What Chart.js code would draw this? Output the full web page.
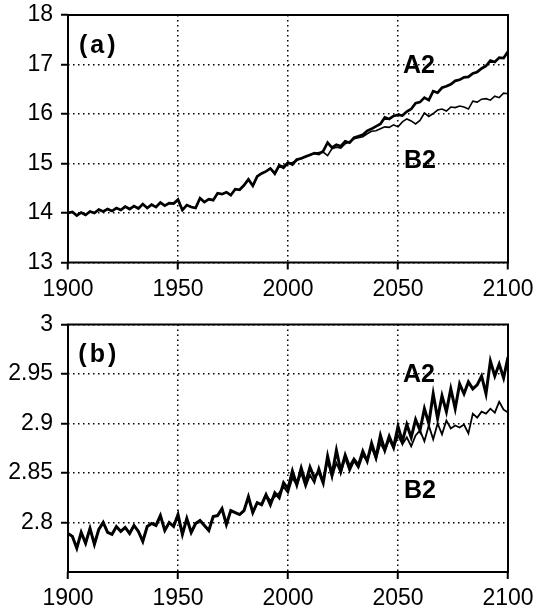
<!DOCTYPE html>
<html>
<head>
<meta charset="utf-8">
<script src="https://cdn.jsdelivr.net/npm/chart.js@4.4.0/dist/chart.umd.min.js"></script>
<style>
  body { margin: 0; background: #fff; }
  #wrap { position: relative; width: 536px; height: 609px; }
  canvas { position: absolute; left: 0; }
  #chartA { top: 0; }
  #chartB { top: 300px; }
</style>
</head>
<body>
<div id="wrap">
  <canvas id="chartA" width="536" height="300"></canvas>
  <canvas id="chartB" width="536" height="309"></canvas>
</div>
<script>
// ===== Years (2-year steps): shared historical run, then scenarios =====
const histYears = [
    1900, 1902, 1904, 1906, 1908, 1910, 1912, 1914, 1916, 1918,
    1920, 1922, 1924, 1926, 1928, 1930, 1932, 1934, 1936, 1938,
    1940, 1942, 1944, 1946, 1948, 1950, 1952, 1954, 1956, 1958,
    1960, 1962, 1964, 1966, 1968, 1970, 1972, 1974, 1976, 1978,
    1980, 1982, 1984, 1986, 1988, 1990
];
const futYears = [
    1992, 1994, 1996, 1998, 2000, 2002, 2004, 2006, 2008, 2010,
    2012, 2014, 2016, 2018, 2020, 2022, 2024, 2026, 2028, 2030,
    2032, 2034, 2036, 2038, 2040, 2042, 2044, 2046, 2048, 2050,
    2052, 2054, 2056, 2058, 2060, 2062, 2064, 2066, 2068, 2070,
    2072, 2074, 2076, 2078, 2080, 2082, 2084, 2086, 2088, 2090,
    2092, 2094, 2096, 2098, 2100
];

// ===== Panel (a) =====
const histA = [
    14.00, 14.02, 13.95, 14.01, 13.96, 14.03, 14.00, 14.07, 14.03, 14.08,
    14.04, 14.10, 14.06, 14.13, 14.08, 14.14, 14.09, 14.18, 14.10, 14.17,
    14.12, 14.21, 14.15, 14.20, 14.19, 14.27, 14.06, 14.16, 14.12, 14.10,
    14.30, 14.22, 14.28, 14.26, 14.40, 14.38, 14.42, 14.36, 14.48, 14.47,
    14.56, 14.68, 14.55, 14.74, 14.80, 14.84
];
const a2A = [
    14.90, 14.80, 14.96, 14.93, 15.02, 14.98, 15.08, 15.10, 15.14, 15.17,
    15.21, 15.19, 15.25, 15.42, 15.32, 15.38, 15.35, 15.45, 15.42, 15.52,
    15.55, 15.58, 15.66, 15.70, 15.75, 15.80, 15.93, 15.90, 15.96, 15.98,
    15.97, 16.05, 16.10, 16.22, 16.24, 16.33, 16.28, 16.46, 16.43, 16.53,
    16.56, 16.60, 16.67, 16.69, 16.74, 16.75, 16.82, 16.85, 16.92, 16.97,
    17.08, 17.05, 17.14, 17.13, 17.26
];
const b2A = [
    14.90, 14.78, 14.95, 14.90, 15.00, 15.02, 15.06, 15.11, 15.13, 15.18,
    15.20, 15.22, 15.23, 15.16, 15.30, 15.33, 15.31, 15.40, 15.44, 15.50,
    15.52, 15.54, 15.60, 15.65, 15.66, 15.70, 15.74, 15.73, 15.78, 15.74,
    15.84, 15.90, 15.86, 15.80, 15.87, 16.02, 15.95, 16.01, 16.08, 16.10,
    16.06, 16.14, 16.13, 16.16, 16.14, 16.10, 16.26, 16.24, 16.30, 16.31,
    16.28, 16.36, 16.33, 16.42, 16.41
];

// ===== Panel (b) =====
const histB = [
    2.789, 2.786, 2.774, 2.790, 2.779, 2.794, 2.778, 2.793, 2.800, 2.790,
    2.788, 2.796, 2.791, 2.795, 2.789, 2.797, 2.791, 2.781, 2.796, 2.799,
    2.797, 2.807, 2.792, 2.800, 2.796, 2.808, 2.788, 2.804, 2.790, 2.799,
    2.802, 2.797, 2.792, 2.806, 2.807, 2.814, 2.798, 2.812, 2.810, 2.808,
    2.812, 2.826, 2.810, 2.820, 2.818, 2.828
];
const a2B = [
    2.818, 2.830, 2.825, 2.840, 2.834, 2.852, 2.838, 2.855, 2.840, 2.856,
    2.845, 2.852, 2.840, 2.867, 2.848, 2.873, 2.852, 2.868, 2.856, 2.864,
    2.858, 2.872, 2.862, 2.880, 2.866, 2.888, 2.873, 2.887, 2.876, 2.897,
    2.882, 2.899, 2.886, 2.904, 2.893, 2.915, 2.900, 2.930, 2.905, 2.928,
    2.912, 2.935, 2.915, 2.940, 2.930, 2.942, 2.935, 2.939, 2.948, 2.930,
    2.963, 2.948, 2.960, 2.946, 2.967
];
const b2B = [
    2.822, 2.826, 2.830, 2.836, 2.830, 2.845, 2.838, 2.850, 2.836, 2.848,
    2.840, 2.856, 2.842, 2.862, 2.846, 2.860, 2.850, 2.865, 2.852, 2.862,
    2.855, 2.868, 2.862, 2.876, 2.864, 2.880, 2.872, 2.884, 2.875, 2.888,
    2.879, 2.886, 2.877, 2.888, 2.893, 2.882, 2.898, 2.884, 2.900, 2.889,
    2.903, 2.895, 2.898, 2.896, 2.899, 2.890, 2.910, 2.906, 2.912, 2.910,
    2.915, 2.911, 2.922, 2.914, 2.911
];

// ===== Tick labels =====
const xTicks = [1900, 1950, 2000, 2050, 2100];
const yTicksA = [13, 14, 15, 16, 17, 18];
const yTicksB = [2.8, 2.85, 2.9, 2.95, 3];

const allYears = histYears.concat(futYears);
function toPoints(hist, fut) {
    const ys = hist.concat(fut);
    return allYears.map((yr, i) => ({ x: yr, y: ys[i] }));
}

// frame box + panel labels
const panelDecor = {
    id: "panelDecor",
    afterDraw(chart) {
        const { ctx, chartArea: a, scales } = chart;
        const notes = chart.options.plugins.panelDecor.notes || [];
        ctx.save();
        ctx.strokeStyle = "#000";
        ctx.lineWidth = 2;
        ctx.strokeRect(a.left, a.top, a.right - a.left, a.bottom - a.top);
        ctx.fillStyle = "#000";
        ctx.textAlign = "center";
        ctx.textBaseline = "alphabetic";
        notes.forEach(n => {
            ctx.font = "bold 25px 'Liberation Sans'";
            ctx.letterSpacing = n.spacing || "0px";
            ctx.fillText(n.text, scales.x.getPixelForValue(n.x), scales.y.getPixelForValue(n.y));
        });
        ctx.restore();
    }
};

const tickFont = { family: "'Liberation Sans', Arial, sans-serif", size: 23 };

function makePanel(id, opt) {
    return new Chart(document.getElementById(id), {
        type: "line",
        data: {
            datasets: [
                { label: "A2", data: toPoints(opt.hist, opt.a2), borderColor: "#000", borderWidth: opt.wA2, pointRadius: 0, tension: 0, fill: false },
                { label: "B2", data: toPoints(opt.hist, opt.b2), borderColor: "#000", borderWidth: opt.wB2, pointRadius: 0, tension: 0, fill: false }
            ]
        },
        options: {
            responsive: false,
            animation: false,
            layout: { padding: { top: opt.top, right: 28, left: 0, bottom: 0 } },
            plugins: {
                legend: { display: false },
                tooltip: { enabled: false },
                panelDecor: { notes: opt.notes }
            },
            scales: {
                x: {
                    type: "linear",
                    min: 1900,
                    max: 2100,
                    afterBuildTicks: s => { s.ticks = xTicks.map(v => ({ value: v })); },
                    afterFit: s => { s.height = opt.xAxisH; s.paddingLeft = 0; s.paddingRight = 0; },
                    ticks: { color: "#000", font: tickFont, padding: 6, maxRotation: 0, autoSkip: false, callback: v => String(v) },
                    grid: { color: "#000", lineWidth: 1.5, tickLength: 7, tickWidth: 2 },
                    border: { display: false, dash: [1.5, 3.5] }
                },
                y: {
                    min: opt.yMin,
                    max: opt.yMax,
                    afterBuildTicks: s => { s.ticks = opt.yTicks.map(v => ({ value: v })); },
                    afterFit: s => { s.width = 68; s.paddingTop = 0; s.paddingBottom = 0; },
                    ticks: { color: "#000", font: tickFont, padding: 8, autoSkip: false, callback: v => String(v) },
                    grid: { color: "#000", lineWidth: 1.5, tickLength: 7, tickWidth: 2 },
                    border: { display: false, dash: [1.5, 3.5] }
                }
            }
        },
        plugins: [panelDecor]
    });
}

makePanel("chartA", {
    hist: histA, a2: a2A, b2: b2A,
    yMin: 13, yMax: 18, yTicks: yTicksA,
    top: 15, xAxisH: 37.5, wA2: 2.7, wB2: 1.6,
    notes: [
        { text: "(a)", x: 1914, y: 17.23, spacing: "3px" },
        { text: "A2", x: 2059.5, y: 16.83 },
        { text: "B2", x: 2060, y: 14.91 }
    ]
});

makePanel("chartB", {
    hist: histB, a2: a2B, b2: b2B,
    yMin: 2.75, yMax: 3, yTicks: yTicksB,
    top: 24.5, xAxisH: 37, wA2: 3, wB2: 1.8,
    notes: [
        { text: "(b)", x: 1914, y: 2.962, spacing: "3px" },
        { text: "A2", x: 2059.5, y: 2.942 },
        { text: "B2", x: 2060, y: 2.8247 }
    ]
});
</script>
</body>
</html>
